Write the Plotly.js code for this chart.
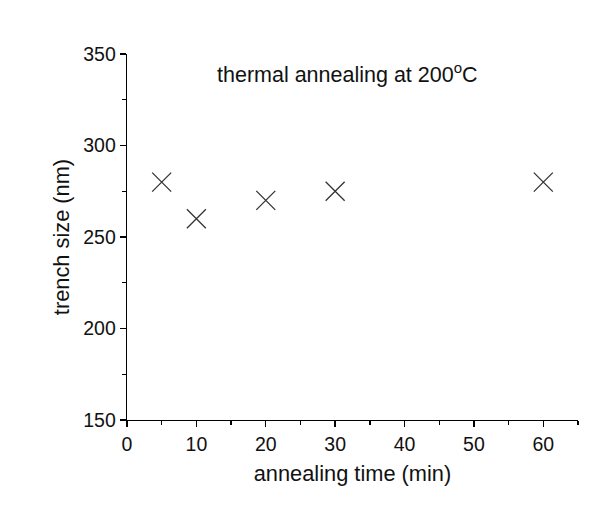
<!DOCTYPE html>
<html>
<head>
<meta charset="utf-8">
<script src="https://cdn.plot.ly/plotly-3.0.1.min.js"></script>
<style>html,body{margin:0;padding:0;background:#fff;}#chart{width:598px;height:515px;}</style>
</head>
<body>
<div id="chart"></div>
<script>
const annealingTime = [5, 10, 20, 30, 60];
const trenchSize = [280, 260, 270, 275, 280];
const xTickVals = [0, 10, 20, 30, 40, 50, 60];
const yTickVals = [150, 200, 250, 300, 350];
const annotationText = 'thermal annealing at 200<sup>o</sup>C';

const fontFamily = 'Liberation Sans, Arial, sans-serif';
const data = [{
  x: annealingTime,
  y: trenchSize,
  mode: 'markers',
  type: 'scatter',
  marker: {symbol: 'x-thin', size: 19, line: {color: '#333333', width: 1.3}, color: '#333333'},
  hoverinfo: 'x+y'
}];
const layout = {
  width: 598, height: 515,
  margin: {l: 127, r: 20, t: 54, b: 95},
  paper_bgcolor: '#ffffff', plot_bgcolor: '#ffffff',
  showlegend: false,
  font: {family: fontFamily, size: 19, color: '#000'},
  xaxis: {
    range: [0, 65], tickvals: xTickVals, ticks: 'outside', ticklen: 6, tickwidth: 1.3, tickcolor: '#000',
    showline: true, linecolor: '#000', linewidth: 1.3, showgrid: false, zeroline: false,
    tickfont: {size: 19.5, family: fontFamily, color: '#111'},
    minor: {dtick: 5, tick0: 5, ticks: 'outside', ticklen: 3.5, tickwidth: 1.3, tickcolor: '#000', showgrid: false},
    title: {text: 'annealing time (min)', font: {size: 21.8, family: fontFamily, color: '#111'}, standoff: 12}
  },
  yaxis: {
    range: [150, 350], tickvals: yTickVals, ticks: 'outside', ticklen: 6, tickwidth: 1.3, tickcolor: '#000',
    showline: true, linecolor: '#000', linewidth: 1.3, showgrid: false, zeroline: false,
    tickfont: {size: 19.5, family: fontFamily, color: '#111'},
    minor: {dtick: 25, tick0: 175, ticks: 'outside', ticklen: 3.5, tickwidth: 1.3, tickcolor: '#000', showgrid: false},
    title: {text: 'trench size (nm)', font: {size: 21.8, family: fontFamily, color: '#111'}, standoff: 7}
  },
  annotations: [{
    text: annotationText, xref: 'paper', yref: 'paper', x: 0.489, y: 0.948, xanchor: 'center', yanchor: 'middle', showarrow: false,
    font: {size: 21.5, family: fontFamily, color: '#111'}
  }]
};
Plotly.newPlot('chart', data, layout, {displayModeBar: false, staticPlot: true});
</script>
</body>
</html>
